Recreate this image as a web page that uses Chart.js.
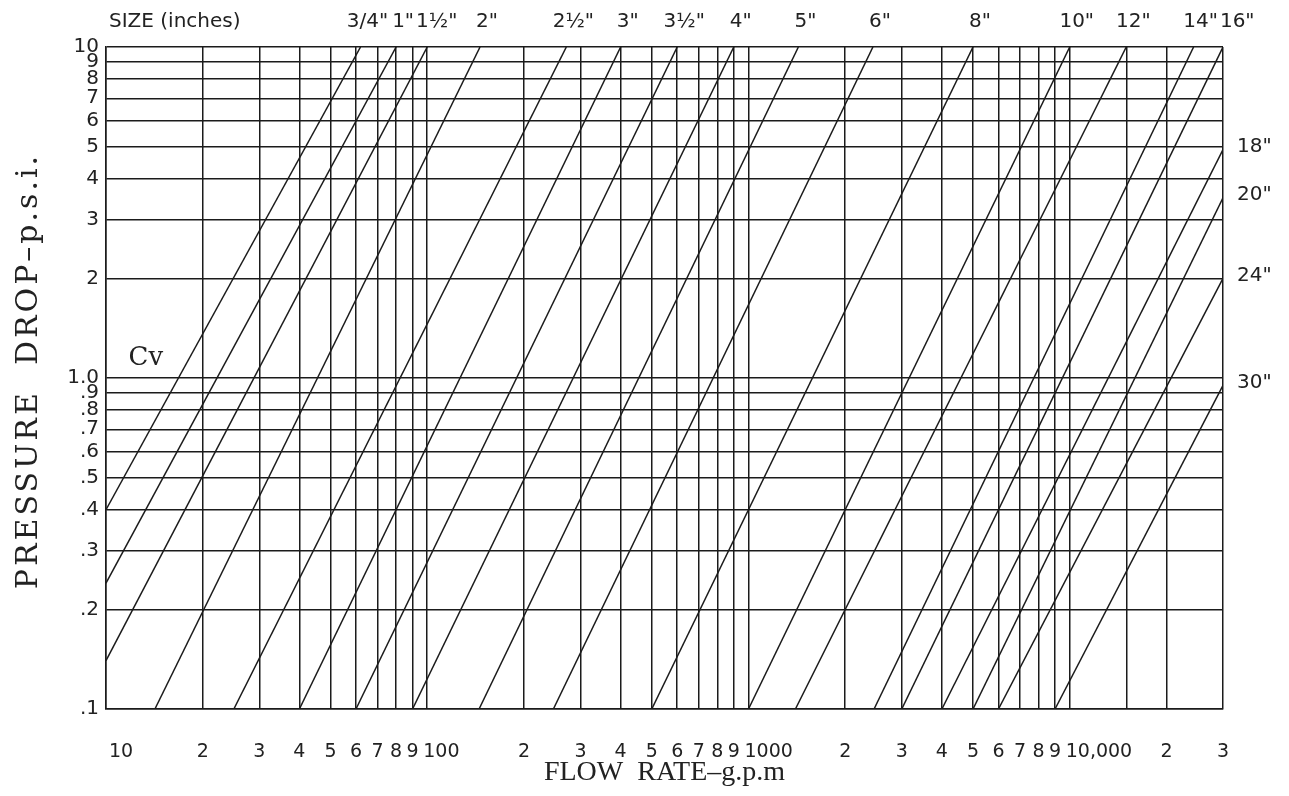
<!DOCTYPE html>
<html>
<head>
<meta charset="utf-8">
<title>Pressure drop - flow rate</title>
<script src="https://cdn.jsdelivr.net/npm/chart.js@4.4.1/dist/chart.umd.min.js"></script>
<style>
  html, body { margin: 0; padding: 0; background: #fff; }
  #wrap { width: 1289px; height: 796px; }
</style>
</head>
<body>
<div id="wrap"><canvas id="graphique"></canvas></div>
<script>
// one diagonal line per valve size (start on left/bottom edge, end on top/right edge)
const sizeLabels = ['3/4"', '1"', '1½"', '2"', '2½"', '3"', '3½"', '4"', '5"', '6"', '8"', '10"', '12"', '14"', '16"', '18"', '20"', '24"', '30"'];
const flowStart = [10, 10, 10, 14.2, 25, 40, 60, 90, 145, 247, 500, 1000, 1400, 2460, 3000, 4000, 5000, 6000, 9000];
const dropStart = [0.4, 0.24, 0.14, 0.1, 0.1, 0.1, 0.1, 0.1, 0.1, 0.1, 0.1, 0.1, 0.1, 0.1, 0.1, 0.1, 0.1, 0.1, 0.1];
const flowEnd = [62, 80, 100, 146, 271, 400, 600, 900, 1430, 2440, 5000, 10000, 15000, 24300, 30000, 30000, 30000, 30000, 30000];
const dropEnd = [10, 10, 10, 10, 10, 10, 10, 10, 10, 10, 10, 10, 10, 10, 10, 4.9, 3.5, 2.0, 0.95];

// grid / tick values
const xTicks = [10, 20, 30, 40, 50, 60, 70, 80, 90,
                100, 200, 300, 400, 500, 600, 700, 800, 900,
                1000, 2000, 3000, 4000, 5000, 6000, 7000, 8000, 9000,
                10000, 15000, 20000, 30000];
const xTickLabels = ['10', '2', '3', '4', '5', '6', '7', '8', '9',
                     '100', '2', '3', '4', '5', '6', '7', '8', '9',
                     '1000', '2', '3', '4', '5', '6', '7', '8', '9',
                     '10,000', '', '2', '3'];
const yTicks = [0.1, 0.2, 0.3, 0.4, 0.5, 0.6, 0.7, 0.8, 0.9,
                1, 2, 3, 4, 5, 6, 7, 8, 9, 10];
const yTickLabels = ['.1', '.2', '.3', '.4', '.5', '.6', '.7', '.8', '.9',
                     '1.0', '2', '3', '4', '5', '6', '7', '8', '9', '10'];

const INK = '#1b1b1b';
const SANS = '"DejaVu Sans", sans-serif';
const SERIF = '"DejaVu Serif", serif';

// texts that are not ticks: sizes, "SIZE (inches)", Cv, x labels, y title
const annotations = {
    id: 'annotations',
    afterDraw(chart) {
        const {ctx, chartArea, scales} = chart;
        const xs = scales.x, ys = scales.y;
        ctx.save();
        ctx.fillStyle = '#222';
        ctx.textBaseline = 'middle';

        // x tick labels (decades start at the grid line, others centered)
        ctx.font = '19px ' + SANS;
        xTicks.forEach((v, i) => {
            const label = xTickLabels[i];
            if (!label) return;
            const px = xs.getPixelForValue(v);
            if (label.length > 1) {
                ctx.textAlign = 'left';
                ctx.fillText(label, v === 10 ? px + 3 : px - 4, chartArea.bottom + 43);
            } else {
                ctx.textAlign = 'center';
                ctx.fillText(label, px, chartArea.bottom + 43);
            }
        });

        // size labels along the top
        ctx.font = '20px ' + SANS;
        ctx.textAlign = 'left';
        ctx.fillText('SIZE (inches)', chartArea.left + 3, 22);
        let prevRight = 0;
        sizeLabels.forEach((size, i) => {
            if (dropEnd[i] < 10) return;
            const w = ctx.measureText(size).width;
            let left = xs.getPixelForValue(flowEnd[i]) + 7 - w / 2;
            if (left < prevRight + 2) left = prevRight + 2;
            ctx.fillText(size, left, 22);
            prevRight = left + w;
        });

        // size labels on the right side
        sizeLabels.forEach((size, i) => {
            if (dropEnd[i] >= 10) return;
            ctx.fillText(size, chartArea.right + 14, ys.getPixelForValue(dropEnd[i]) - 3);
        });

        // Cv
        ctx.font = '26px ' + SERIF;
        ctx.textAlign = 'center';
        ctx.fillText('Cv', xs.getPixelForValue(13.3), ys.getPixelForValue(1.15));

        // y title, wide letters like the original lettering
        ctx.translate(29, (chartArea.top + chartArea.bottom) / 2 - 7);
        ctx.rotate(-Math.PI / 2);
        ctx.font = '30px ' + SERIF;
        ctx.letterSpacing = '3px';
        ctx.fillText('PRESSURE  DROP–p.s.i.', 0, 0);
        ctx.restore();
    }
};

const datasets = sizeLabels.map((size, i) => ({
    label: size,
    data: [{x: flowStart[i], y: dropStart[i]}, {x: flowEnd[i], y: dropEnd[i]}],
    showLine: true,
    borderColor: INK,
    borderWidth: 1.5,
    pointRadius: 0,
    fill: false
}));

new Chart(document.getElementById('graphique'), {
    type: 'scatter',
    data: {datasets},
    options: {
        responsive: true,
        maintainAspectRatio: false,
        animation: false,
        layout: {padding: {top: 47, right: 66, left: 0, bottom: 0}},
        plugins: {legend: {display: false}, tooltip: {enabled: false}},
        scales: {
            x: {
                type: 'logarithmic',
                min: 10,
                max: 30000,
                afterFit: s => { s.height = 796 - 709; },
                afterBuildTicks: s => { s.ticks = xTicks.map(v => ({value: v})); },
                grid: {color: INK, lineWidth: 1.5, drawTicks: false},
                border: {color: INK, width: 1.5},
                ticks: {display: false, autoSkip: false},
                title: {
                    display: true,
                    text: 'FLOW  RATE–g.p.m',
                    color: '#222',
                    font: {family: '"Liberation Serif", serif', size: 28},
                    padding: {top: 0, bottom: 7}
                }
            },
            y: {
                type: 'logarithmic',
                min: 0.1,
                max: 10,
                afterFit: s => { s.width = 106; },
                afterBuildTicks: s => { s.ticks = yTicks.map(v => ({value: v})); },
                grid: {color: INK, lineWidth: 1.5, drawTicks: false},
                border: {color: INK, width: 1.5},
                ticks: {
                    autoSkip: false,
                    padding: 7,
                    color: '#222',
                    font: {family: SANS, size: 20},
                    callback: (value, index) => yTickLabels[index]
                }
            }
        }
    },
    plugins: [annotations]
});
</script>
</body>
</html>
